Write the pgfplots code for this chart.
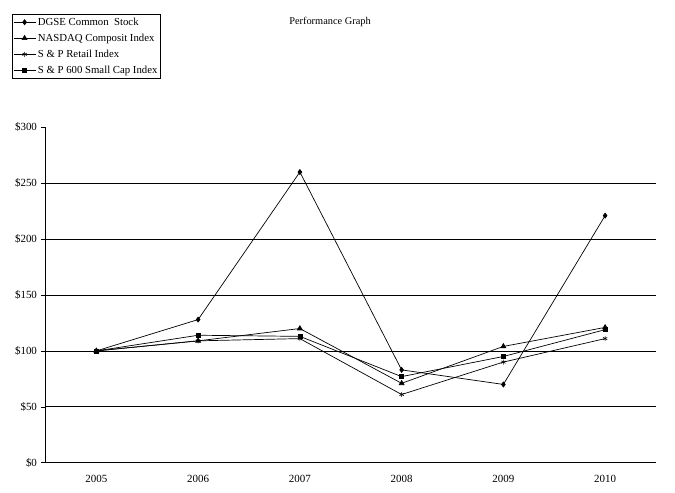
\documentclass[border=0pt]{standalone}
\usepackage{pgfplots}
\pgfplotsset{compat=1.18}
\usepackage{fontspec}
\setmainfont{Liberation Serif}
\begin{document}
\fontsize{10}{12}\selectfont
\begin{tikzpicture}
\path[use as bounding box] (0,0) rectangle (675bp,493bp);
\begin{axis}[
  at={(45.5bp,30.3bp)}, anchor=south west,
  scale only axis, width=610.5bp, height=335.4bp,
  xmin=-0.5, xmax=5.5, ymin=0, ymax=300,
  axis x line=bottom, axis y line=left,
  axis line style={-, line width=0.8pt, black},
  xtick={0,1,2,3,4,5},
  xticklabels={2005,2006,2007,2008,2009,2010},
  xtick style={draw=none},
  minor xtick={-0.5,0.5,1.5,2.5,3.5,4.5,5.5},
  minor tick length=4bp,
  ytick={0,50,100,150,200,250,300},
  yticklabels={\$0,\$50,\$100,\$150,\$200,\$250,\$300},
  major tick length=4bp,
  tick align=outside,
  tick style={black, line width=0.6pt},
  extra y ticks={50,100,150,200,250},
  extra y tick labels={},
  extra y tick style={grid=major, major tick length=0pt},
  grid style={black, line width=0.8pt},
  tick label style={font=\fontsize{11}{13}\selectfont},
  xticklabel style={yshift=-5bp},
  yticklabel style={xshift=-1bp},
  legend style={at={(-0.055,1.338)}, anchor=north west, draw=black, line width=0.6pt,
    font=\fontsize{10.8}{12}\selectfont, row sep=3.1bp, inner xsep=1pt, inner ysep=1.5pt},
  legend cell align=left,
  legend image code/.code={
    \draw[#1, mark repeat=2, mark phase=2] plot coordinates {(0bp,0bp) (11bp,0bp) (22bp,0bp)};
  },
  every axis plot/.append style={black, line width=0.7pt, mark options={solid, fill=black}},
]
\addplot[mark=diamond*, mark size=2.5pt] coordinates {(0,100) (1,128) (2,260) (3,83) (4,70) (5,221)};
\addlegendentry{DGSE Common\ \ Stock}
\addplot[mark=triangle*, mark size=2.8pt] coordinates {(0,100) (1,109) (2,120) (3,71) (4,104) (5,121)};
\addlegendentry{NASDAQ Composit Index}
\addplot[mark=asterisk, mark size=2.5pt, mark options={line width=0.6pt}] coordinates {(0,100) (1,109) (2,111) (3,61) (4,90) (5,111)};
\addlegendentry{S \& P Retail Index}
\addplot[mark=square*, mark size=2pt] coordinates {(0,100) (1,114) (2,113) (3,77) (4,95) (5,119)};
\addlegendentry{S \& P 600 Small Cap Index}
\end{axis}
\node at (330bp,471bp) {\fontsize{10.4}{12}\selectfont Performance Graph};
\end{tikzpicture}
\end{document}
